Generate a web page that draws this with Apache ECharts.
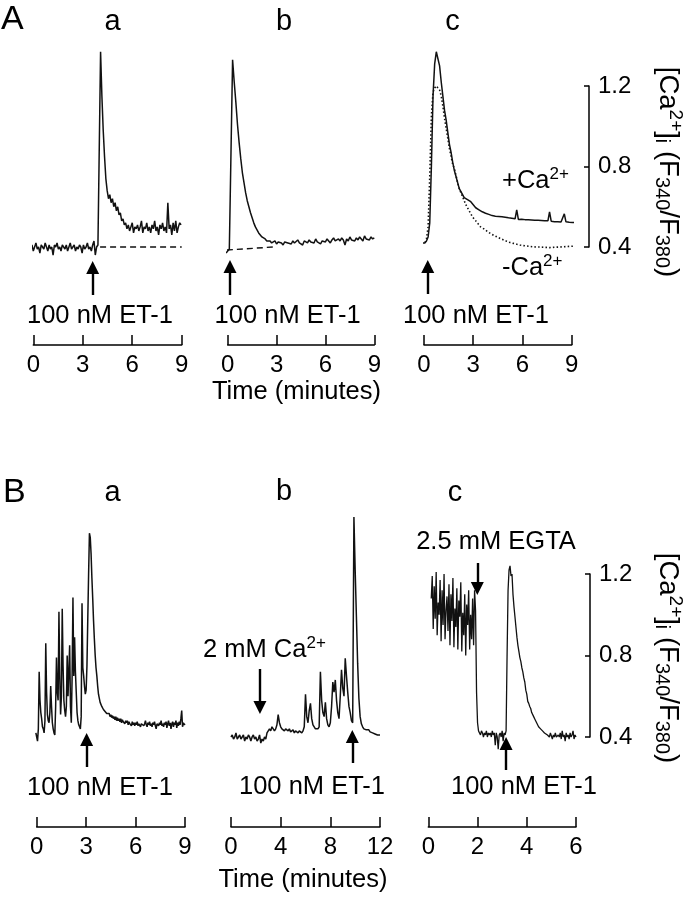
<!DOCTYPE html>
<html>
<head>
<meta charset="utf-8">
<script src="https://cdn.jsdelivr.net/npm/echarts@6/dist/echarts.min.js"></script>
<style>
  html, body { margin: 0; padding: 0; background: #fff; }
  #chart { width: 695px; height: 899px; }
</style>
</head>
<body>
<div id="chart"></div>
<script>
// ---- data (time in minutes, [Ca2+]i as F340/F380 ratio) ----
// A a : ET-1 added at 3.6 min
const aaTicks = [0, 3, 6, 9]
const aaStart = -0.16, aaStep = 0.08
const aaValues = [
  0.39, 0.41, 0.38, 0.40, 0.42, 0.39, 0.40, 0.37, 0.41, 0.40,
  0.39, 0.42, 0.40, 0.38, 0.41, 0.39, 0.40, 0.36, 0.41, 0.40,
  0.42, 0.39, 0.40, 0.38, 0.41, 0.40, 0.39, 0.41, 0.38, 0.40,
  0.42, 0.39, 0.40, 0.41, 0.38, 0.40, 0.39, 0.41, 0.40, 0.37,
  0.41, 0.39, 0.40, 0.42, 0.39, 0.40, 0.38, 0.41, 0.43, 0.36,
  0.40, 0.41, 0.41, 1.37, 1.15, 0.98, 0.85, 0.74, 0.68, 0.64,
  0.66, 0.62, 0.64, 0.60, 0.62, 0.58, 0.60, 0.56, 0.57, 0.53,
  0.54, 0.51, 0.52, 0.49, 0.51, 0.48, 0.50, 0.52, 0.47, 0.50,
  0.49, 0.51, 0.48, 0.50, 0.53, 0.47, 0.50, 0.49, 0.52, 0.48,
  0.50, 0.47, 0.51, 0.49, 0.53, 0.48, 0.50, 0.46, 0.51, 0.49,
  0.52, 0.48, 0.50, 0.47, 0.62, 0.49, 0.51, 0.46, 0.52, 0.48,
  0.53, 0.47, 0.50, 0.52, 0.51
]
const aaBaseline = [[4.05, 0.40], [9.0, 0.40]]
const aaEvent = 3.6

// A b
const abTicks = [0, 3, 6, 9]
const abStart = -0.1, abStep = 0.1
const abValues = [
  0.37, 0.38, 0.39, 0.39, 1.33, 1.22, 1.12, 1.01, 0.92, 0.84,
  0.77, 0.72, 0.67, 0.63, 0.60, 0.57, 0.545, 0.52, 0.50, 0.485,
  0.47, 0.46, 0.45, 0.445, 0.44, 0.43, 0.425, 0.43, 0.42, 0.425,
  0.43, 0.415, 0.425, 0.43, 0.42, 0.41, 0.425, 0.43, 0.42, 0.425,
  0.415, 0.43, 0.42, 0.425, 0.435, 0.42, 0.425, 0.41, 0.43, 0.425,
  0.42, 0.435, 0.425, 0.43, 0.42, 0.44, 0.425, 0.43, 0.415, 0.43,
  0.435, 0.425, 0.44, 0.43, 0.42, 0.435, 0.445, 0.43, 0.425, 0.44,
  0.43, 0.445, 0.435, 0.41, 0.44, 0.43, 0.45, 0.435, 0.44, 0.43,
  0.445, 0.435, 0.45, 0.44, 0.43, 0.455, 0.44, 0.445, 0.435, 0.45,
  0.44, 0.445
]
const abBaseline = [[-0.05, 0.385], [2.8, 0.40]]
const abEvent = 0.14

// A c : +Ca2+ (solid) and -Ca2+ (dotted)
const acTicks = [0, 3, 6, 9]
const acStart = -0.15, acStep = 0.1
const acPlus = [
  0.42, 0.415, 0.42, 0.43, 0.45, 0.52, 0.80, 1.15, 1.31, 1.37,
  1.37, 1.30, 1.22, 1.15, 1.08, 1.03, 0.97, 0.91, 0.87, 0.82,
  0.78, 0.75, 0.72, 0.69, 0.675, 0.66, 0.645, 0.64, 0.635, 0.63,
  0.625, 0.615, 0.61, 0.595, 0.59, 0.585, 0.58, 0.575, 0.57, 0.568,
  0.565, 0.562, 0.56, 0.556, 0.558, 0.553, 0.55, 0.552, 0.548, 0.55,
  0.546, 0.548, 0.543, 0.545, 0.541, 0.543, 0.538, 0.54, 0.585, 0.537,
  0.535, 0.538, 0.533, 0.536, 0.532, 0.535, 0.53, 0.534, 0.531, 0.533,
  0.53, 0.533, 0.529, 0.532, 0.528, 0.531, 0.527, 0.53, 0.575, 0.528,
  0.53, 0.526, 0.529, 0.525, 0.528, 0.524, 0.527, 0.565, 0.525, 0.527,
  0.523, 0.526, 0.522, 0.524, 0.521
]
const acMinus = [
  0.42, 0.415, 0.42, 0.44, 0.50, 0.75, 1.05, 1.17, 1.19, 1.20,
  1.19, 1.18, 1.15, 1.10, 1.04, 0.99, 0.94, 0.89, 0.85, 0.81,
  0.79, 0.755, 0.72, 0.69, 0.67, 0.65, 0.63, 0.61, 0.595, 0.58,
  0.565, 0.55, 0.54, 0.53, 0.52, 0.51, 0.50, 0.495, 0.49, 0.483,
  0.478, 0.472, 0.467, 0.462, 0.458, 0.454, 0.45, 0.446, 0.442, 0.438,
  0.435, 0.432, 0.428, 0.425, 0.422, 0.42, 0.418, 0.416, 0.414, 0.412,
  0.41, 0.409, 0.407, 0.406, 0.405, 0.404, 0.403, 0.402, 0.401, 0.40,
  0.40, 0.399, 0.40, 0.398, 0.399, 0.397, 0.398, 0.398, 0.397, 0.399,
  0.398, 0.40, 0.399, 0.401, 0.40, 0.402, 0.401, 0.403, 0.402, 0.404,
  0.403, 0.405, 0.404, 0.406, 0.405
]
const acEvent = 0.23

// B a
const baTicks = [0, 3, 6, 9]
const baStart = -0.05, baStep = 0.05
const baValues = [
  0.42, 0.40, 0.38, 0.44, 0.72, 0.58, 0.52, 0.49, 0.45, 0.44,
  0.42, 0.48, 0.86, 0.62, 0.51, 0.48, 0.47, 0.52, 0.65, 0.55,
  0.47, 0.44, 0.42, 0.41, 0.55, 0.79, 0.62, 0.58, 1.015, 0.70,
  0.51, 0.60, 1.03, 0.75, 0.58, 0.53, 0.50, 0.55, 0.80, 0.60,
  0.72, 0.85, 0.55, 0.47, 0.70, 1.085, 0.70, 0.89, 0.72, 0.62,
  0.52, 0.48, 0.46, 0.45, 0.44, 0.50, 1.056, 0.74, 0.70, 0.65,
  0.61, 0.63, 0.75, 0.98, 1.20, 1.40, 1.38, 1.30, 1.18, 1.08,
  0.97, 0.88, 0.80, 0.74, 0.70, 0.65, 0.61, 0.59, 0.57, 0.575,
  0.55, 0.545, 0.535, 0.54, 0.525, 0.53, 0.515, 0.52, 0.51, 0.515,
  0.50, 0.51, 0.495, 0.505, 0.49, 0.50, 0.485, 0.50, 0.48, 0.495,
  0.48, 0.49, 0.475, 0.49, 0.47, 0.485, 0.475, 0.48, 0.465, 0.48,
  0.47, 0.48, 0.46, 0.475, 0.465, 0.47, 0.455, 0.475, 0.46, 0.47,
  0.455, 0.47, 0.46, 0.475, 0.455, 0.465, 0.47, 0.45, 0.465, 0.46,
  0.47, 0.455, 0.465, 0.48, 0.46, 0.45, 0.47, 0.46, 0.475, 0.455,
  0.465, 0.45, 0.47, 0.46, 0.475, 0.455, 0.44, 0.465, 0.47, 0.455,
  0.47, 0.46, 0.48, 0.455, 0.465, 0.45, 0.47, 0.46, 0.475, 0.445,
  0.465, 0.48, 0.455, 0.47, 0.44, 0.465, 0.475, 0.45, 0.47, 0.46,
  0.48, 0.445, 0.47, 0.455, 0.475, 0.46, 0.49, 0.53, 0.45, 0.47,
  0.46, 0.465
]
const baEvent = 3.03

// B b : 2 mM Ca2+ then ET-1
const bbTicks = [0, 4, 8, 12]
const bbStart = 0, bbStep = 0.1
const bbValues = [
  0.40, 0.41, 0.39, 0.40, 0.42, 0.39, 0.40, 0.41, 0.39, 0.40,
  0.41, 0.38, 0.40, 0.39, 0.41, 0.40, 0.38, 0.40, 0.41, 0.39,
  0.40, 0.38, 0.39, 0.41, 0.37, 0.39, 0.38, 0.40, 0.39, 0.42,
  0.43, 0.44, 0.43, 0.45, 0.44, 0.43, 0.44, 0.46, 0.51, 0.47,
  0.45, 0.44, 0.445, 0.43, 0.44, 0.435, 0.43, 0.44, 0.425, 0.43,
  0.435, 0.42, 0.43, 0.425, 0.42, 0.43, 0.425, 0.42, 0.43, 0.45,
  0.61, 0.50, 0.47, 0.53, 0.565, 0.49, 0.46, 0.45, 0.44, 0.445,
  0.44, 0.45, 0.72, 0.58, 0.52, 0.50, 0.57, 0.49, 0.46, 0.45,
  0.47, 0.55, 0.67, 0.62, 0.68, 0.58, 0.52, 0.49, 0.60, 0.73,
  0.64, 0.60, 0.786, 0.70, 0.62, 0.55, 0.52, 0.48, 0.47, 1.48,
  1.22, 0.99, 0.76, 0.59, 0.50, 0.465, 0.45, 0.44, 0.445, 0.435,
  0.43, 0.435, 0.425, 0.43, 0.42, 0.425, 0.415, 0.42, 0.41, 0.415,
  0.41
]
const bbCaEvent = 2.33
const bbEvent = 9.77

// B c : 2.5 mM EGTA then ET-1
const bcTicks = [0, 2, 4, 6]
const bcStart = 0.12, bcStep = 0.04
const bcValues = [
  1.08, 1.19, 0.93, 1.14, 0.98, 1.21, 0.90, 1.06, 1.00, 1.17,
  0.87, 1.12, 0.95, 1.20, 0.88, 1.02, 1.09, 0.92, 1.15, 0.85,
  1.10, 0.97, 1.18, 0.84, 1.03, 0.94, 1.13, 0.83, 1.07, 0.99,
  1.16, 0.82, 1.01, 0.90, 1.10, 0.80, 1.05, 0.95, 1.12, 0.83,
  1.00, 0.88, 1.08, 0.85, 1.12, 1.02, 0.62, 0.47, 0.43, 0.42,
  0.41, 0.43, 0.42, 0.40, 0.42, 0.41, 0.43, 0.40, 0.42, 0.41,
  0.42, 0.40, 0.43, 0.41, 0.42, 0.36, 0.42, 0.40, 0.34, 0.41,
  0.42, 0.40, 0.43, 0.38, 0.42, 0.41, 0.43, 0.80, 1.12, 1.22,
  1.24, 1.19, 1.20, 1.10, 1.04, 0.99, 0.94, 0.89, 0.85, 0.82,
  0.79, 0.77, 0.74, 0.72, 0.69, 0.67, 0.63, 0.61, 0.575, 0.565,
  0.55, 0.54, 0.52, 0.515, 0.50, 0.49, 0.485, 0.47, 0.465, 0.45,
  0.45, 0.44, 0.44, 0.43, 0.425, 0.42, 0.42, 0.425, 0.41, 0.415,
  0.40, 0.42, 0.405, 0.39, 0.41, 0.40, 0.42, 0.40, 0.395, 0.41,
  0.40, 0.42, 0.39, 0.43, 0.40, 0.41, 0.38, 0.42, 0.40, 0.41,
  0.39, 0.42, 0.40, 0.41, 0.43, 0.39, 0.41, 0.40
]
const bcEgtaEvent = 1.99
const bcEvent = 3.16

// ratio scale bar
const scaleTicks = [0.4, 0.8, 1.2]

// ---- layout (pixels) ----
const FONT = 'Liberation Sans'
const rowA = { ref: 247, unit: 201.25, axis: 345 }   // ref = pixel of ratio 0.4
const rowB = { ref: 737, unit: 203.75, axis: 827 }
const TOP_VALUE = 1.6
const NOTE = 25.5

const panels = [
  { row: rowA, left: 33.3, right: 181.7, ticks: aaTicks },
  { row: rowA, left: 227.7, right: 374.3, ticks: abTicks },
  { row: rowA, left: 424, right: 571.7, ticks: acTicks },
  { row: rowB, left: 36.7, right: 185, ticks: baTicks },
  { row: rowB, left: 231, right: 380, ticks: bbTicks },
  { row: rowB, left: 428.3, right: 576, ticks: bcTicks }
]

function val (row, y) {
  return scaleTicks[0] + (row.ref - y) / row.unit
}

function toPairs (values, start, step) {
  return values.map(function (v, i) { return [+(start + i * step).toFixed(3), v] })
}

// arrow: t in data, tail/tip in pixels
function arrow (row, t, tail, tip) {
  const end = tip + 6.5 * Math.sign(tail - tip)
  return [{ coord: [t, val(row, tail)] }, { coord: [t, val(row, end)] }]
}

function arrows (list) {
  return {
    silent: true,
    symbol: ['none', 'triangle'],
    symbolSize: 13,
    label: { show: false },
    lineStyle: { type: 'solid', color: '#000', width: 2.4 },
    emphasis: { disabled: true },
    animation: false,
    data: list
  }
}

const grids = []
const xAxes = []
const yAxes = []
panels.forEach(function (p, i) {
  const top = p.row.ref - (TOP_VALUE - scaleTicks[0]) * p.row.unit
  grids.push({ left: p.left, width: p.right - p.left, top: top, height: p.row.axis - top })
  xAxes.push({
    gridIndex: i,
    type: 'value',
    min: p.ticks[0],
    max: p.ticks[p.ticks.length - 1],
    interval: p.ticks[1] - p.ticks[0],
    axisLine: { onZero: false, lineStyle: { color: '#000', width: 1.5 } },
    axisTick: { inside: true, length: 10, lineStyle: { color: '#000', width: 1.5 } },
    axisLabel: { color: '#000', fontSize: 24, fontFamily: FONT, margin: 8, showMinLabel: true, showMaxLabel: true },
    splitLine: { show: false }
  })
  yAxes.push({
    gridIndex: i,
    type: 'value',
    show: false,
    min: val(p.row, p.row.axis),
    max: TOP_VALUE
  })
})

// scale bars (right of panel c in each row)
const scaleBars = [{ row: rowA, x: 589 }, { row: rowB, x: 590 }]
scaleBars.forEach(function (s) {
  const gi = grids.length
  const top = s.row.ref - (scaleTicks[2] - scaleTicks[0]) * s.row.unit
  grids.push({ left: s.x - 20, width: 20, top: top, height: s.row.ref - top })
  xAxes.push({ gridIndex: gi, type: 'value', min: 0, max: 1, show: false })
  yAxes.push({
    gridIndex: gi,
    type: 'value',
    position: 'right',
    min: scaleTicks[0],
    max: scaleTicks[2],
    interval: scaleTicks[1] - scaleTicks[0],
    axisLine: { show: true, onZero: false, lineStyle: { color: '#000', width: 1.5 } },
    axisTick: { show: true, inside: true, length: 5, lineStyle: { color: '#000', width: 1.5 } },
    axisLabel: {
      color: '#000', fontSize: 24, fontFamily: FONT, margin: 9,
      formatter: function (v) { return v.toFixed(1) }
    },
    splitLine: { show: false }
  })
})

function trace (gi, data, extra) {
  return Object.assign({
    type: 'line',
    xAxisIndex: gi,
    yAxisIndex: gi,
    data: data,
    showSymbol: false,
    symbol: 'none',
    clip: false,
    silent: true,
    lineStyle: { color: '#111', width: 1.5 }
  }, extra || {})
}

const series = [
  trace(0, toPairs(aaValues, aaStart, aaStep), {
    markLine: arrows([arrow(rowA, aaEvent, 295, 261)])
  }),
  trace(0, aaBaseline, { lineStyle: { color: '#111', width: 1.4, type: [6, 4] } }),
  trace(1, toPairs(abValues, abStart, abStep), {
    markLine: arrows([arrow(rowA, abEvent, 295, 260)])
  }),
  trace(1, abBaseline, { lineStyle: { color: '#111', width: 1.4, type: [6, 4] } }),
  trace(2, toPairs(acPlus, acStart, acStep), {
    markLine: arrows([arrow(rowA, acEvent, 294, 260)])
  }),
  trace(2, toPairs(acMinus, acStart, acStep), { lineStyle: { color: '#111', width: 1.6, type: [1.5, 2.2] } }),
  trace(3, toPairs(baValues, baStart, baStep), {
    markLine: arrows([arrow(rowB, baEvent, 767, 733)])
  }),
  trace(4, toPairs(bbValues, bbStart, bbStep), {
    markLine: arrows([arrow(rowB, bbCaEvent, 669, 714), arrow(rowB, bbEvent, 763, 730)])
  }),
  trace(5, toPairs(bcValues, bcStart, bcStep), {
    lineStyle: { color: '#111', width: 1.3 },
    markLine: arrows([arrow(rowB, bcEgtaEvent, 563, 595), arrow(rowB, bcEvent, 770, 737)])
  })
]

// ---- text ----
const rich = {
  m: { fontSize: NOTE, lineHeight: 30, fontFamily: FONT, fill: '#000' },
  s: { fontSize: 17, lineHeight: 17, fontFamily: FONT, fill: '#000', verticalAlign: 'top' }
}
const richLabel = {
  m: { fontSize: 27.5, lineHeight: 33, fontFamily: FONT, fill: '#000' },
  s: { fontSize: 19, lineHeight: 19, fontFamily: FONT, fill: '#000', verticalAlign: 'top' },
  b: { fontSize: 20, lineHeight: 20, fontFamily: FONT, fill: '#000', verticalAlign: 'bottom' }
}

function txt (text, x, y, size, align) {
  return {
    type: 'text', x: x, y: y, silent: true,
    style: { text: text, fill: '#000', fontSize: size, fontFamily: FONT, align: align || 'center', verticalAlign: 'middle', rich: rich }
  }
}
const ratioLabel = '{m|[Ca}{s|2+}{m|]}{b|i}{m| (F}{b|340}{m|/F}{b|380}{m|)}'
function rotated (x, y) {
  return {
    type: 'text', x: x, y: y, rotation: -Math.PI / 2, silent: true,
    style: { text: ratioLabel, fill: '#000', fontSize: 27.5, fontFamily: FONT, align: 'center', verticalAlign: 'middle', rich: richLabel }
  }
}

const graphics = [
  txt('A', 1, 20, 34, 'left'),
  txt('B', 3, 493, 34, 'left'),
  txt('a', 112.5, 22, 29), txt('b', 284, 22, 29), txt('c', 452.5, 22, 29),
  txt('a', 112.5, 493, 29), txt('b', 284, 492, 29), txt('c', 455, 493, 29),
  txt('100 nM ET-1', 100, 316, NOTE), txt('100 nM ET-1', 287.6, 316, NOTE), txt('100 nM ET-1', 476, 316, NOTE),
  txt('100 nM ET-1', 100, 788, NOTE), txt('100 nM ET-1', 312, 787, NOTE), txt('100 nM ET-1', 524, 787, NOTE),
  txt('Time (minutes)', 296.5, 392, NOTE), txt('Time (minutes)', 303, 880, NOTE),
  txt('{m|+Ca}{s|2+}', 502, 181, NOTE, 'left'),
  txt('{m|-Ca}{s|2+}', 502, 268, NOTE, 'left'),
  txt('{m|2 mM Ca}{s|2+}', 203, 650, NOTE, 'left'),
  txt('2.5 mM EGTA', 496, 542, NOTE),
  rotated(668, 172),
  rotated(668, 658)
]

const chart = echarts.init(document.getElementById('chart'))
chart.setOption({
  backgroundColor: '#fff',
  animation: false,
  textStyle: { fontFamily: FONT },
  grid: grids,
  xAxis: xAxes,
  yAxis: yAxes,
  series: series,
  graphic: graphics
})
window.addEventListener('resize', function () {
  chart.resize()
})
</script>
</body>
</html>
